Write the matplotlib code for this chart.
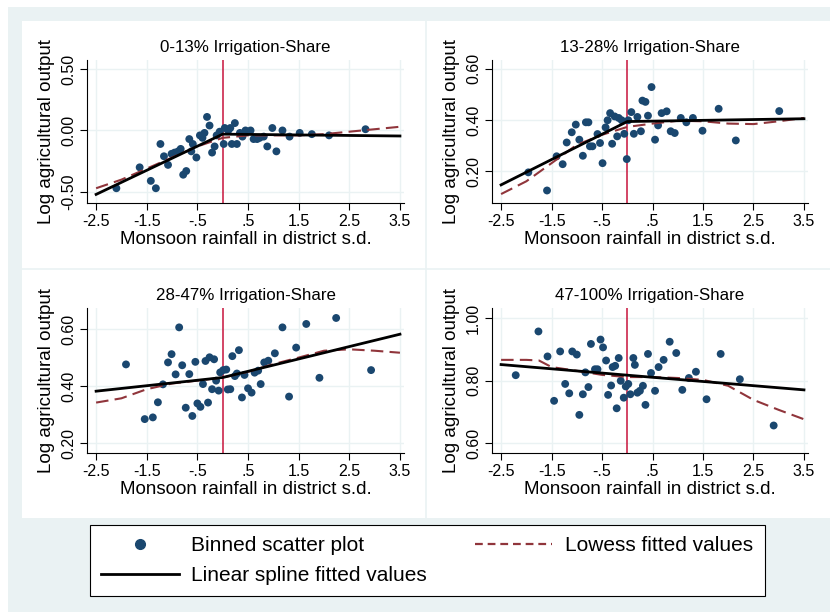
import matplotlib
matplotlib.use("Agg")

import numpy as np
import matplotlib.pyplot as plt
from matplotlib.patches import Rectangle
from matplotlib.lines import Line2D

plt.rcParams["font.family"] = ["Liberation Sans", "DejaVu Sans"]

# colours (Stata s2color look)
BG = "#EAF2F3"
NAVY = "#1A476F"
CRANBERRY = "#90353B"
RED = "#C8143C"

TITLES = ["0-13% Irrigation-Share", "13-28% Irrigation-Share",
          "28-47% Irrigation-Share", "47-100% Irrigation-Share"]

X_TICKS = [-2.5, -1.5, -0.5, 0.5, 1.5, 2.5, 3.5]
X_TICKLABELS = ["-2.5", "-1.5", "-.5", ".5", "1.5", "2.5", "3.5"]

# panel 1: 0-13%
p1_x = [-2.10, -1.64, -1.42, -1.32, -1.23, -1.16, -1.08, -1.01, -0.95, -0.88,
        -0.83, -0.78, -0.72, -0.66, -0.62, -0.59, -0.52, -0.45, -0.40, -0.36,
        -0.31, -0.26, -0.21, -0.16, -0.12, -0.06, 0.02, 0.04, 0.11, 0.15,
        0.18, 0.24, 0.28, 0.34, 0.39, 0.45, 0.55, 0.61, 0.68, 0.73,
        0.81, 0.88, 0.98, 1.06, 1.18, 1.32, 1.52, 1.76, 2.10, 2.82]
p1_y = [-0.47, -0.30, -0.41, -0.47, -0.11, -0.21, -0.28, -0.19, -0.18, -0.17,
        -0.15, -0.36, -0.33, -0.07, -0.17, -0.11, -0.22, -0.04, -0.06, -0.02,
        0.11, 0.04, -0.18, -0.13, -0.04, -0.01, -0.11, 0.02, 0.00, 0.02,
        -0.11, 0.06, -0.11, -0.02, -0.05, 0.00, 0.00, -0.07, -0.07, -0.06,
        -0.05, -0.13, 0.02, -0.17, 0.00, -0.05, -0.02, -0.03, -0.04, 0.01]
p1_spline_x = [-2.5, 0.0, 3.5]
p1_spline_y = [-0.52, -0.03, -0.045]
p1_lowess_x = [-2.5, -2.0, -1.5, -1.0, -0.5, 0.0, 0.5, 1.0, 1.5, 2.0, 2.5, 3.0, 3.5]
p1_lowess_y = [-0.47, -0.40, -0.31, -0.22, -0.13, -0.06, -0.04, -0.04, -0.04,
               -0.03, -0.01, 0.01, 0.03]

# panel 2: 13-28%
p2_x = [-1.96, -1.59, -1.40, -1.28, -1.20, -1.10, -1.02, -0.95, -0.88, -0.82,
        -0.77, -0.74, -0.69, -0.59, -0.54, -0.49, -0.43, -0.39, -0.34, -0.30,
        -0.25, -0.20, -0.17, -0.11, -0.06, -0.01, 0.02, 0.08, 0.13, 0.20,
        0.27, 0.30, 0.36, 0.41, 0.48, 0.55, 0.61, 0.68, 0.78, 0.86,
        0.94, 1.06, 1.17, 1.30, 1.49, 1.81, 2.15, 3.01]
p2_y = [0.195, 0.124, 0.258, 0.227, 0.312, 0.352, 0.382, 0.323, 0.260, 0.391,
        0.391, 0.297, 0.297, 0.345, 0.310, 0.231, 0.371, 0.399, 0.427, 0.307,
        0.414, 0.336, 0.408, 0.399, 0.346, 0.247, 0.399, 0.431, 0.346, 0.412,
        0.356, 0.476, 0.471, 0.417, 0.529, 0.323, 0.379, 0.427, 0.434, 0.356,
        0.349, 0.408, 0.391, 0.408, 0.358, 0.444, 0.320, 0.435]
p2_spline_x = [-2.5, 0.0, 3.5]
p2_spline_y = [0.146, 0.394, 0.405]
p2_lowess_x = [-2.5, -2.0, -1.5, -1.0, -0.5, 0.0, 0.5, 1.0, 1.5, 2.0, 2.5, 3.0, 3.5]
p2_lowess_y = [0.110, 0.160, 0.231, 0.303, 0.342, 0.373, 0.386, 0.397, 0.395,
               0.386, 0.384, 0.395, 0.408]

# panel 3: 28-47%
p3_x = [-1.91, -1.54, -1.38, -1.28, -1.18, -1.08, -1.01, -0.93, -0.86, -0.80,
        -0.73, -0.66, -0.60, -0.54, -0.50, -0.44, -0.39, -0.34, -0.29, -0.26,
        -0.21, -0.17, -0.13, -0.08, -0.05, 0.01, 0.07, 0.10, 0.15, 0.19,
        0.24, 0.28, 0.32, 0.38, 0.43, 0.50, 0.57, 0.63, 0.70, 0.75,
        0.82, 0.90, 1.03, 1.18, 1.31, 1.45, 1.65, 1.91, 2.24, 2.93]
p3_y = [0.476, 0.284, 0.290, 0.343, 0.406, 0.483, 0.512, 0.441, 0.606, 0.473,
        0.324, 0.442, 0.295, 0.485, 0.339, 0.327, 0.407, 0.488, 0.342, 0.501,
        0.389, 0.494, 0.419, 0.384, 0.448, 0.456, 0.458, 0.388, 0.389, 0.505,
        0.435, 0.444, 0.526, 0.360, 0.439, 0.392, 0.377, 0.447, 0.454, 0.407,
        0.483, 0.489, 0.515, 0.606, 0.363, 0.535, 0.618, 0.429, 0.639, 0.456]
p3_spline_x = [-2.5, 0.0, 3.5]
p3_spline_y = [0.382, 0.430, 0.582]
p3_lowess_x = [-2.5, -2.0, -1.5, -1.0, -0.5, 0.0, 0.5, 1.0, 1.5, 2.0, 2.5, 3.0, 3.5]
p3_lowess_y = [0.342, 0.357, 0.389, 0.409, 0.419, 0.430, 0.450, 0.477, 0.500,
               0.524, 0.529, 0.524, 0.517]

# panel 4: 47-100%
p4_x = [-2.21, -1.76, -1.58, -1.45, -1.33, -1.23, -1.15, -1.09, -1.00, -0.95,
        -0.88, -0.83, -0.77, -0.72, -0.64, -0.59, -0.53, -0.48, -0.42, -0.38,
        -0.32, -0.29, -0.24, -0.21, -0.17, -0.13, -0.07, -0.03, 0.02, 0.06,
        0.12, 0.15, 0.20, 0.25, 0.31, 0.36, 0.41, 0.47, 0.55, 0.62,
        0.72, 0.84, 0.97, 1.09, 1.22, 1.36, 1.57, 1.85, 2.23, 2.90]
p4_y = [0.817, 0.957, 0.877, 0.735, 0.893, 0.789, 0.759, 0.893, 0.883, 0.690,
        0.756, 0.826, 0.779, 0.917, 0.836, 0.836, 0.931, 0.906, 0.864, 0.754,
        0.784, 0.843, 0.847, 0.711, 0.872, 0.799, 0.745, 0.781, 0.789, 0.756,
        0.872, 0.850, 0.761, 0.767, 0.783, 0.722, 0.885, 0.824, 0.767, 0.843,
        0.866, 0.924, 0.888, 0.770, 0.808, 0.828, 0.740, 0.885, 0.804, 0.656]
p4_spline_x = [-2.5, 0.0, 3.5]
p4_spline_y = [0.851, 0.817, 0.770]
p4_lowess_x = [-2.5, -2.0, -1.75, -1.5, -1.0, -0.5, 0.0, 0.5, 1.0, 1.5, 2.0, 2.5, 3.0, 3.5]
p4_lowess_y = [0.866, 0.866, 0.864, 0.843, 0.831, 0.818, 0.811, 0.811, 0.808,
               0.802, 0.783, 0.738, 0.706, 0.676]

Y_TICKS = [[-0.5, 0.0, 0.5], [0.2, 0.4, 0.6], [0.2, 0.4, 0.6], [0.6, 0.8, 1.0]]
Y_LIMS = [(-0.59, 0.573), (0.075, 0.635), (0.165, 0.674), (0.568, 1.032)]

panels = [
    (p1_x, p1_y, p1_spline_x, p1_spline_y, p1_lowess_x, p1_lowess_y),
    (p2_x, p2_y, p2_spline_x, p2_spline_y, p2_lowess_x, p2_lowess_y),
    (p3_x, p3_y, p3_spline_x, p3_spline_y, p3_lowess_x, p3_lowess_y),
    (p4_x, p4_y, p4_spline_x, p4_spline_y, p4_lowess_x, p4_lowess_y),
]

W, H = 830, 613
fig = plt.figure(figsize=(W / 100, H / 100), dpi=100, facecolor="white")


def fx(px):
    return px / W


def fy(py):
    return 1 - py / H


# backgrounds
fig.patches.append(Rectangle((fx(8), fy(612)), fx(822), 605 / H, transform=fig.transFigure,
                             facecolor=BG, edgecolor="none", zorder=-3))
fig.patches.append(Rectangle((fx(22), fy(518)), fx(808), 497 / H, transform=fig.transFigure,
                             facecolor="white", edgecolor="none", zorder=-2))
fig.lines.append(Line2D([fx(426), fx(426)], [fy(518), fy(21)], transform=fig.transFigure,
                        color=BG, lw=1.2, zorder=-1))
fig.lines.append(Line2D([fx(22), fx(830)], [fy(269), fy(269)], transform=fig.transFigure,
                        color=BG, lw=1.2, zorder=-1))

# axes boxes in pixels: left, top, right, bottom
boxes = [(87, 60, 404, 203), (492, 60, 808, 203),
         (87, 308, 404, 453), (492, 308, 808, 453)]

for i, (box, data) in enumerate(zip(boxes, panels)):
    l, t, r, b = box
    ax = fig.add_axes([fx(l), fy(b), (r - l) / W, (b - t) / H])
    ax.set_facecolor("white")
    xs, ys, sx, sy, lx, ly = data

    ax.axvline(0, color=RED, lw=1.1, zorder=2)
    ax.scatter(xs, ys, s=32, color=NAVY, edgecolors="none", zorder=3)
    ax.plot(lx, ly, color=CRANBERRY, lw=1.5, ls=(0, (6, 3)), zorder=4)
    ax.plot(sx, sy, color="black", lw=2.0, zorder=5)

    ax.set_xlim(-2.68, 3.58)
    ax.set_ylim(*Y_LIMS[i])
    ax.set_xticks(X_TICKS)
    ax.set_xticklabels(X_TICKLABELS)
    ax.set_yticks(Y_TICKS[i])
    ax.set_yticklabels(["%.2f" % v for v in Y_TICKS[i]])
    for lab in ax.get_yticklabels():
        lab.set_rotation(90)
        lab.set_va("center")

    ax.grid(True, color=BG, lw=1.0)
    ax.set_axisbelow(True)
    for sp in ["top", "right"]:
        ax.spines[sp].set_visible(False)
    for sp in ["left", "bottom"]:
        ax.spines[sp].set_color("black")
        ax.spines[sp].set_linewidth(0.8)
    ax.tick_params(labelsize=11.5, length=5, width=0.8, pad=3)

    ax.set_title(TITLES[i], fontsize=12.2, pad=6)
    ax.set_xlabel("Monsoon rainfall in district s.d.", fontsize=13.5, labelpad=1)
    ax.set_ylabel("Log agricultural output", fontsize=13.5, labelpad=4)

# legend
handles = [
    Line2D([], [], ls="none", marker="o", markersize=7, color=NAVY, label="Binned scatter plot"),
    Line2D([], [], color="black", lw=2.0, label="Linear spline fitted values"),
    Line2D([], [], color=CRANBERRY, lw=1.6, ls=(0, (3.5, 2.2)), label="Lowess fitted values"),
]
leg = fig.legend(handles=handles, ncol=2, loc="upper left",
                 bbox_to_anchor=(fx(90), fy(525)),
                 fontsize=15, frameon=True, fancybox=False, edgecolor="black",
                 framealpha=1, handlelength=3.7, handletextpad=0.62, borderaxespad=0,
                 borderpad=0.55, labelspacing=0.5, columnspacing=2.3)
leg.get_frame().set_linewidth(0.8)

fig.savefig("out.png", dpi=100, facecolor="white")
